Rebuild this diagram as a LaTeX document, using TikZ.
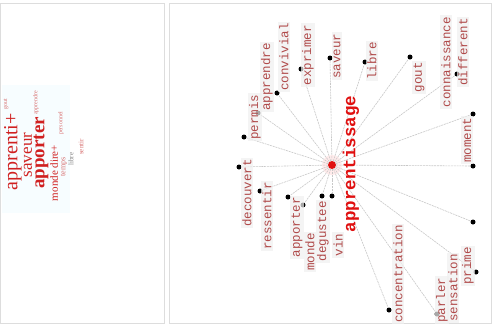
\documentclass[tikz,border=0pt]{standalone}
\usepackage{fontspec}
\setmonofont{Liberation Mono}
\newfontfamily\cloudfont{Liberation Serif}
\definecolor{panelgray}{HTML}{DDDDDD}
\definecolor{edgegray}{HTML}{C8C8C8}
\definecolor{labred}{HTML}{B04A4A}
\definecolor{hubred}{HTML}{E01010}
\definecolor{cloudred}{HTML}{D02020}
\definecolor{cloudpink}{HTML}{D87070}
\tikzset{
  panel/.style={draw=panelgray, line width=1pt},
  edge/.style={draw=edgegray, line width=0.6pt, dash pattern=on 2pt off 0.8pt},
  ldot/.style={circle, fill=black, inner sep=0pt, minimum size=5pt},
  hub/.style={circle, fill=hubred, inner sep=0pt, minimum size=8pt},
  halo/.style={circle, fill=red!8, inner sep=0pt, minimum size=20pt},
  lab/.style={rotate=90, fill=black!6, fill opacity=0.7, text opacity=1, text=labred,
    inner sep=1.5pt, font=\ttfamily\fontsize{12.5}{14}\selectfont},
  hublab/.style={rotate=90, text=hubred, inner sep=0pt, font=\ttfamily\bfseries\fontsize{17.5}{20}\selectfont},
  cw/.style={rotate=90, inner sep=0pt, text=cloudred},
}
\begin{document}
\begin{tikzpicture}[x=1pt,y=-1pt]
\useasboundingbox (0,0) rectangle (493,325);
\fill[white] (0,0) rectangle (493,325);
\draw[panel] (0.5,3) rectangle (164,323);
\draw[panel] (169,3) rectangle (491.5,323);

% ---- word cloud ----
\fill[cyan!3] (2,85) rectangle (70,213);
\node[cw, font=\cloudfont\fontsize{20}{20}\selectfont] (w1) at (13,152) {apprenti+};
\node[cw, font=\cloudfont\fontsize{6}{6}\selectfont, text=cloudpink] (w2) at (6,104) {gout};
\node[cw, font=\cloudfont\fontsize{17}{17}\selectfont] (w3) at (28,155) {saveur};
\node[cw, font=\cloudfont\bfseries\fontsize{19}{19}\selectfont] (w4) at (41,153) {apporter};
\node[cw, font=\cloudfont\fontsize{6}{6}\selectfont, text=cloudpink] (w5) at (36,103) {apprendre};
\node[cw, font=\cloudfont\fontsize{11}{11}\selectfont] (w6) at (54,173) {monde dire+};
\node[cw, font=\cloudfont\fontsize{8}{8}\selectfont, text=cloudpink] (w7) at (64,167) {temps};
\node[cw, font=\cloudfont\fontsize{7}{7}\selectfont, text=gray] (w8) at (71,159) {libre};
\node[cw, font=\cloudfont\fontsize{6}{6}\selectfont, text=cloudpink] (w9) at (61,123) {personnel};
\node[cw, font=\cloudfont\fontsize{7}{7}\selectfont, text=cloudpink] (w10) at (81,147) {sentir};

% ---- star graph ----
\node[halo] (h) at (332,165) {};
\node[ldot] (d1) at (244,137) {};
\node[ldot] (d2) at (258,113) {};
\node[ldot] (d3) at (277,93) {};
\node[ldot] (d4) at (301,69) {};
\node[ldot] (d5) at (330,58) {};
\node[ldot] (d6) at (365,62) {};
\node[ldot] (d7) at (410,57) {};
\node[ldot] (d8) at (457,74) {};
\node[ldot] (d9) at (473,114) {};
\node[ldot] (d10) at (473,166) {};
\node[ldot] (d11) at (473,222) {};
\node[ldot] (d12) at (476,272) {};
\node[ldot] (d13) at (437,314) {};
\node[ldot] (d14) at (389,310) {};
\node[ldot] (d15) at (332,196) {};
\node[ldot] (d16) at (322,196) {};
\node[ldot] (d17) at (303,205) {};
\node[ldot] (d18) at (288,197) {};
\node[ldot] (d19) at (260,191) {};
\node[ldot] (d20) at (239,167) {};
\node[hub] (c) at (332,165) {};
\foreach \i in {1,...,20} { \draw[edge] (c) -- (d\i); }

\node[lab] (l1) at (255,117) {permis};
\node[lab] (l2) at (267,77) {apprendre};
\node[lab] (l3) at (284,57) {convivial};
\node[lab] (l4) at (308,55) {exprimer};
\node[lab] (l5) at (337,56) {saveur};
\node[lab] (l6) at (372,61) {libre};
\node[lab] (l7) at (419,77) {gout};
\node[lab] (l8) at (446,62) {connaissance};
\node[lab] (l9) at (463,52) {different};
\node[lab] (l10) at (467,140) {moment};
\node[lab] (l11) at (468,266) {prime};
\node[lab] (l12) at (453,288) {sensation};
\node[lab] (l13) at (442,300) {parler};
\node[lab] (l14) at (398,274) {concentration};
\node[lab] (l15) at (338,245) {vin};
\node[lab] (l16) at (323,231) {degustee};
\node[lab] (l17) at (310,252) {monde};
\node[lab] (l18) at (297,227) {apporter};
\node[lab] (l19) at (267,216) {ressentir};
\node[lab] (l20) at (247,193) {decouvert};
\node[hublab] (cl) at (351,164) {apprentissage};
\end{tikzpicture}
\end{document}
